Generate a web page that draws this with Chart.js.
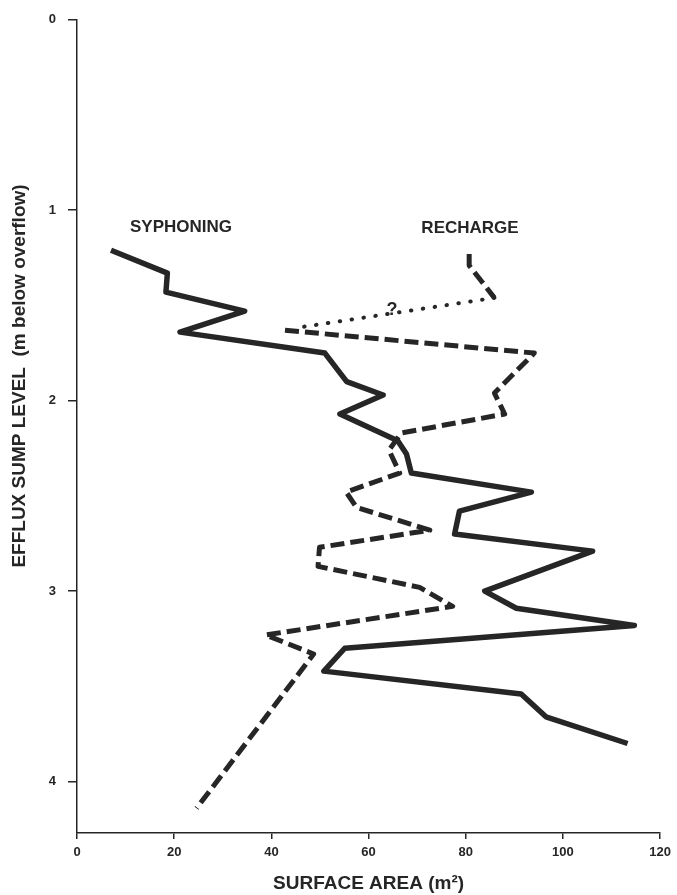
<!DOCTYPE html>
<html><head><meta charset="utf-8">
<script src="https://cdn.jsdelivr.net/npm/chart.js@4.4.0/dist/chart.umd.min.js"></script>
<style>html,body{margin:0;padding:0;background:#fff;} #wrap{width:677px;height:895px;position:relative;}</style>
</head><body><div id="wrap"><canvas id="c" width="677" height="895"></canvas></div>
<script>
// Syphoning (solid)
const syphonArea  = [7.0, 18.6, 18.3, 34.5, 21.2, 51.0, 55.5, 63.0, 54.1, 66.0, 67.8, 68.8, 93.5, 78.7, 77.7, 106.1, 83.9, 90.4, 114.7, 55.1, 50.8, 91.4, 96.5, 113.3];
const syphonLevel = [1.21, 1.33, 1.43, 1.53, 1.64, 1.75, 1.90, 1.97, 2.07, 2.21, 2.28, 2.38, 2.48, 2.58, 2.70, 2.79, 3.00, 3.09, 3.18, 3.30, 3.42, 3.54, 3.66, 3.80];
// Recharge (dashed), with uncertain (dotted) gap
const rechargeTopArea  = [80.7, 80.7, 85.9];
const rechargeTopLevel = [1.23, 1.29, 1.46];
const rechargeGapArea  = [85.9, 44.5];
const rechargeGapLevel = [1.46, 1.62];
const rechargeArea  = [42.8, 94.1, 85.9, 88.0, 66.7, 64.2, 66.4, 55.4, 57.5, 72.6, 49.9, 49.6, 70.5, 77.3, 38.8, 48.7, 24.6];
const rechargeLevel = [1.63, 1.75, 1.96, 2.07, 2.17, 2.26, 2.38, 2.48, 2.56, 2.68, 2.77, 2.87, 2.98, 3.08, 3.23, 3.33, 4.14];
// Ticks
const xTicks = [0, 20, 40, 60, 80, 100, 120];
const yTicks = [0, 1, 2, 3, 4];
const xTitle = 'SURFACE AREA (m\u00B2)';
const yTitle = 'EFFLUX SUMP LEVEL  (m below overflow)';
const seriesLabels = ['SYPHONING', 'RECHARGE'];

const zip = (xs, ys) => xs.map((x, i) => ({x: x, y: ys[i]}));
const INK = '#262626';
const FONT = '"Liberation Sans", Arial, sans-serif';

const textPlugin = {
  id: 'texts',
  afterDraw(chart) {
    const ctx = chart.ctx;
    const xs = chart.scales.x;
    ctx.save();
    ctx.fillStyle = INK;
    ctx.textAlign = 'center';
    ctx.textBaseline = 'middle';
    ctx.font = 'bold 17px ' + FONT;
    ctx.fillText(seriesLabels[0], 181, 227);
    ctx.fillText(seriesLabels[1], 470, 228);
    ctx.font = 'bold 18px ' + FONT;
    ctx.fillText('?', 392, 310);
    ctx.font = 'bold 19px ' + FONT;
    ctx.translate(20, 376);
    ctx.rotate(-Math.PI / 2);
    ctx.fillText(yTitle, 0, 0);
    ctx.restore();
    ctx.save();
    ctx.fillStyle = INK;
    ctx.textAlign = 'center';
    ctx.textBaseline = 'middle';
    ctx.font = 'bold 19px ' + FONT;
    ctx.fillText(xTitle, (xs.left + xs.right) / 2, 884);
    ctx.restore();
  }
};

new Chart(document.getElementById('c'), {
  type: 'scatter',
  data: {
    datasets: [
      {label: 'Syphoning', data: zip(syphonArea, syphonLevel), showLine: true, borderColor: INK, borderWidth: 5.5, pointRadius: 0, borderJoinStyle: 'round', tension: 0},
      {label: 'Recharge (top)', data: zip(rechargeTopArea, rechargeTopLevel), showLine: true, borderColor: INK, borderWidth: 5, borderDash: [14, 6], pointRadius: 0, borderJoinStyle: 'round', tension: 0},
      {label: 'Recharge (uncertain)', data: zip(rechargeGapArea, rechargeGapLevel), showLine: true, borderColor: INK, borderWidth: 4, borderDash: [0.5, 11.5], borderCapStyle: 'round', pointRadius: 0, tension: 0},
      {label: 'Recharge', data: zip(rechargeArea, rechargeLevel), showLine: true, borderColor: INK, borderWidth: 5, borderDash: [14, 6], pointRadius: 0, borderJoinStyle: 'round', tension: 0}
    ]
  },
  options: {
    responsive: false,
    animation: false,
    layout: {padding: {top: 17, right: 16, left: 0, bottom: 0}},
    plugins: {legend: {display: false}, tooltip: {enabled: false}, title: {display: false}},
    scales: {
      x: {
        type: 'linear', min: 0, max: 120,
        afterBuildTicks: s => { s.ticks = xTicks.map(v => ({value: v})); },
        afterFit: s => { s.height = 62; },
        grid: {drawOnChartArea: false, drawTicks: true, tickLength: 6, color: INK, lineWidth: 1.5},
        border: {display: true, color: INK, width: 1.5},
        ticks: {color: INK, font: {family: FONT, size: 13, weight: 'bold'}, padding: 6, maxRotation: 0}
      },
      y: {
        type: 'linear', min: 0, max: 4.27, reverse: true,
        afterBuildTicks: s => { s.ticks = yTicks.map(v => ({value: v})); },
        afterFit: s => { s.width = 77; },
        grid: {drawOnChartArea: false, drawTicks: true, tickLength: 9, color: INK, lineWidth: 1.5},
        border: {display: true, color: INK, width: 1.5},
        ticks: {color: INK, font: {family: FONT, size: 13, weight: 'bold'}, padding: 12}
      }
    }
  },
  plugins: [textPlugin]
});
</script>
</body></html>
